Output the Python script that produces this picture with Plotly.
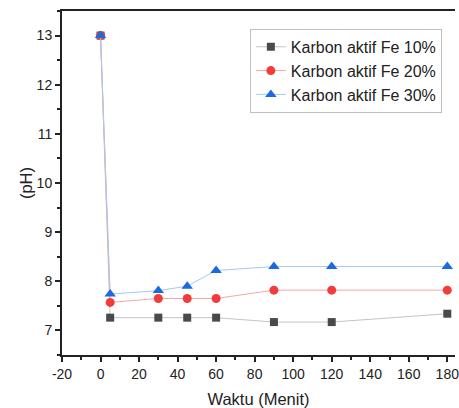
import plotly.graph_objects as go

waktu = [0, 5, 30, 45, 60, 90, 120, 180]
fe10 = [13.0, 7.26, 7.26, 7.26, 7.26, 7.17, 7.17, 7.34]
fe20 = [13.0, 7.57, 7.65, 7.65, 7.65, 7.82, 7.82, 7.82]
fe30 = [13.0, 7.74, 7.81, 7.90, 8.22, 8.30, 8.30, 8.30]
names = ["Karbon aktif Fe 10%", "Karbon aktif Fe 20%", "Karbon aktif Fe 30%"]
x_ticks = [-20, 0, 20, 40, 60, 80, 100, 120, 140, 160, 180]
y_ticks = [7, 8, 9, 10, 11, 12, 13]

fig = go.Figure()
fig.add_trace(go.Scatter(x=waktu, y=fe10, name=names[0], mode="lines+markers",
                         line=dict(color="#c4c4c4", width=1),
                         marker=dict(symbol="square", size=8, color="#4a4a4a")))
fig.add_trace(go.Scatter(x=waktu, y=fe20, name=names[1], mode="lines+markers",
                         line=dict(color="#f7a5a5", width=1),
                         marker=dict(symbol="circle", size=9, color="#f23c3c")))
fig.add_trace(go.Scatter(x=waktu, y=fe30, name=names[2], mode="lines+markers",
                         line=dict(color="#a8c8f2", width=1),
                         marker=dict(symbol="triangle-up", size=10, color="#1a6ae0")))

fam = "Liberation Sans, Arial, sans-serif"
fig.update_layout(
    width=459, height=408,
    margin=dict(l=62, r=0, t=11, b=53),
    paper_bgcolor="white", plot_bgcolor="white",
    font=dict(family=fam, size=14, color="#222"),
    legend=dict(x=0.478, y=0.948, xanchor="left", yanchor="top",
                bordercolor="#bfbfbf", borderwidth=1, bgcolor="white",
                font=dict(family=fam, size=16, color="#222"),
                tracegroupgap=0, itemwidth=30),
    xaxis=dict(range=[-20, 184], tickvals=x_ticks, ticktext=[str(v) for v in x_ticks],
               ticklabeloverflow="allow",
               ticks="outside", ticklen=5, tickwidth=1.5, tickcolor="#222",
               minor=dict(dtick=10, tick0=0, ticks="outside", ticklen=3, tickcolor="#222"),
               showgrid=False, zeroline=False, showline=True, linecolor="#222", linewidth=2,
               mirror=True, tickfont=dict(size=14),
               title=dict(text="Waktu (Menit)", font=dict(size=16.5, family=fam, color="#222"), standoff=14)),
    yaxis=dict(range=[6.5, 13.5], tickvals=y_ticks,
               ticks="outside", ticklen=5, tickwidth=1.5, tickcolor="#222",
               minor=dict(dtick=0.5, tick0=0, ticks="outside", ticklen=3, tickcolor="#222"),
               showgrid=False, zeroline=False, showline=True, linecolor="#222", linewidth=2,
               tickfont=dict(size=14),
               title=dict(text="(pH)", font=dict(size=16.5, family=fam, color="#222"), standoff=0)),
)

fig.write_html("out.html")
